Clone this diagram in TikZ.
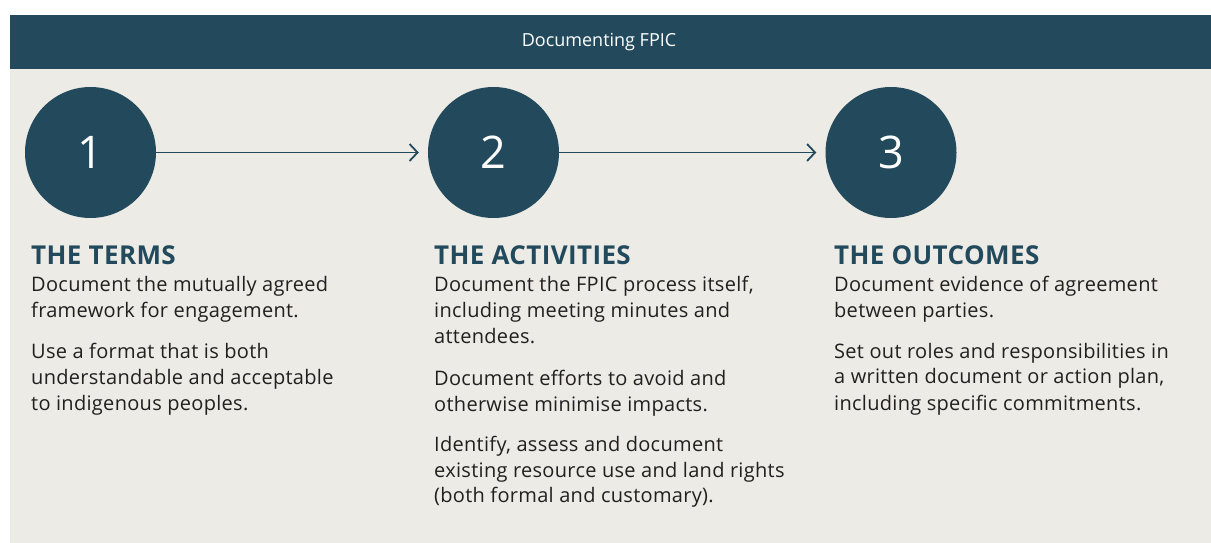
\documentclass[tikz,border=0pt]{standalone}
\usepackage{fontspec}
\setmainfont{Open Sans}
\usetikzlibrary{arrows.meta}
\definecolor{teal}{HTML}{224A5C}
\definecolor{panel}{HTML}{EDEBE6}
\definecolor{ink}{HTML}{231F20}
\newfontfamily\spacedfamily{Open Sans}[LetterSpace=1.5]
\tikzset{
  body/.style={anchor=base west, inner sep=0pt, text=ink, font=\spacedfamily\fontsize{20}{24}\selectfont},
  head/.style={anchor=base west, inner sep=0pt, text=teal, font=\spacedfamily\fontsize{26}{30}\selectfont\bfseries},
  stepcircle/.style={circle, fill=teal, minimum size=131pt, inner sep=0pt, text=white, font=\fontsize{45}{50}\selectfont},
  flow/.style={draw=teal, line width=1.8pt, -{Straight Barb[length=8pt,width=17pt]}, shorten >=9pt}
}
\begin{document}
\begin{tikzpicture}[x=1pt,y=-1pt]
\useasboundingbox (0,0) rectangle (1211,543);
\fill[white] (0,0) rectangle (1211,543);
\fill[panel] (10,69) rectangle (1211,543);
\fill[teal] (10,15) rectangle (1211,69);
\node[anchor=base, inner sep=0pt, text=white, font=\fontsize{18}{22}\selectfont] (title) at (599,47) {Documenting FPIC};

\node[stepcircle] (c1) at (90.5,152.5) {1};
\node[stepcircle] (c2) at (493.5,152.5) {2};
\node[stepcircle] (c3) at (891,152.5) {3};
\draw[flow] (c1.east) -- (c2.west);
\draw[flow] (c2.east) -- (c3.west);

% column 1
\node[head] (h1) at (31,264) {THE TERMS};
\node[body] (a1) at (31,291.5) {Document the mutually agreed};
\node[body] (a2) at (31,317) {framework for engagement.};
\node[body] (a3) at (31,358) {Use a format that is both};
\node[body] (a4) at (31,384) {understandable and acceptable};
\node[body] (a5) at (31,410) {to indigenous peoples.};

% column 2
\node[head] (h2) at (434,264) {THE ACTIVITIES};
\node[body] (b1) at (434,291.5) {Document the FPIC process itself,};
\node[body] (b2) at (434,317.5) {including meeting minutes and};
\node[body] (b3) at (434,343.5) {attendees.};
\node[body] (b4) at (434,385) {Document efforts to avoid and};
\node[body] (b5) at (434,411) {otherwise minimise impacts.};
\node[body] (b6) at (434,451) {Identify, assess and document};
\node[body] (b7) at (434,477) {existing resource use and land rights};
\node[body] (b8) at (434,502) {(both formal and customary).};

% column 3
\node[head] (h3) at (834,264) {THE OUTCOMES};
\node[body] (d1) at (834,291.5) {Document evidence of agreement};
\node[body] (d2) at (834,317) {between parties.};
\node[body] (d3) at (834,358) {Set out roles and responsibilities in};
\node[body] (d4) at (834,383.5) {a written document or action plan,};
\node[body] (d5) at (834,410) {including specific commitments.};
\end{tikzpicture}
\end{document}
